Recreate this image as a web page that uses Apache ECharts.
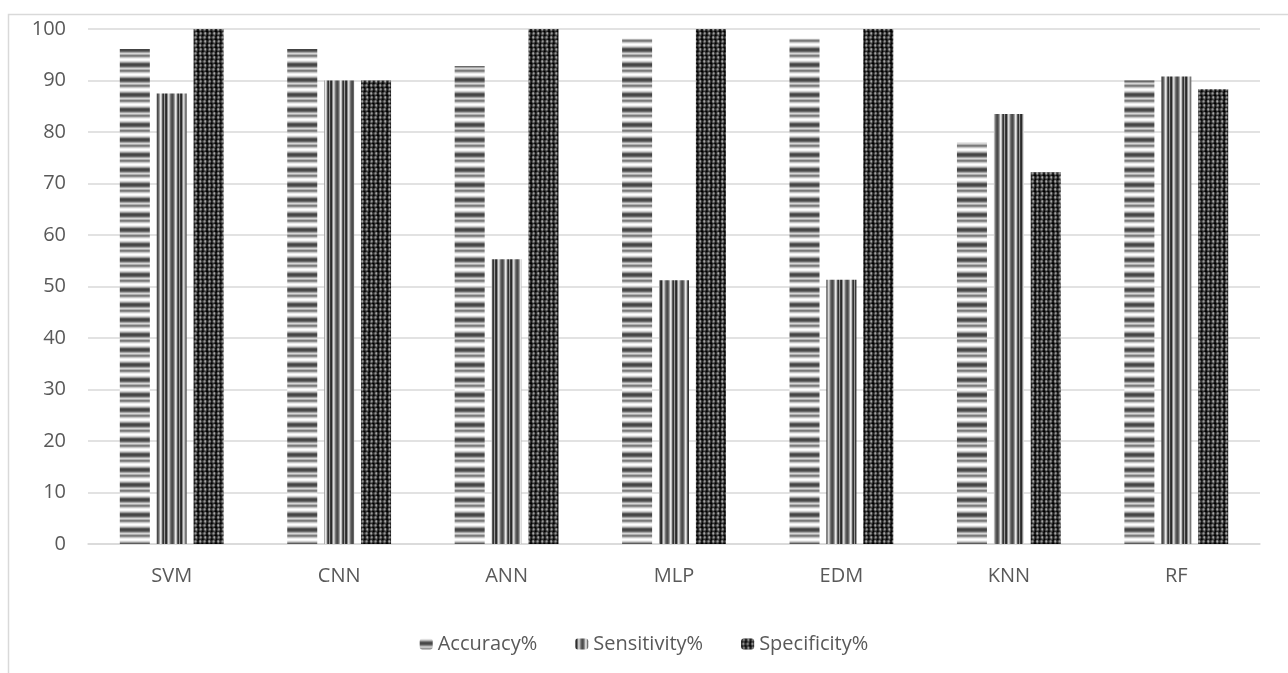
<!DOCTYPE html>
<html>
<head>
<meta charset="utf-8">
<script src="https://cdn.jsdelivr.net/npm/echarts@6/dist/echarts.min.js"></script>
<style>
  html, body { margin: 0; padding: 0; background: #fff; }
  #chart { width: 1288px; height: 673px; }
</style>
</head>
<body>
<div id="chart"></div>
<script>
var categories = ['SVM', 'CNN', 'ANN', 'MLP', 'EDM', 'KNN', 'RF'];
var accuracy = [96.1, 96.1, 92.8, 98.1, 98.1, 77.9, 90];
var sensitivity = [87.5, 90, 55.3, 51.2, 51.3, 83.5, 90.8];
var specificity = [100, 90, 100, 100, 100, 72.2, 88.3];
var yTicks = [0, 10, 20, 30, 40, 50, 60, 70, 80, 90, 100];

// striped fills, like the Office pattern fills in the picture
function hStripes() {
  var shades = ['#f2f2f2','#cfcfcf','#9a9a9a','#5c5c5c','#444','#4a4a4a','#6a6a6a','#a5a5a5','#d5d5d5','#b0b0b0','#7a7a7a','#8c8c8c','#c4c4c4','#ececec','#fff'];
  var c = document.createElement('canvas');
  c.width = 4; c.height = shades.length;
  var ctx = c.getContext('2d');
  shades.forEach(function (s, i) { ctx.fillStyle = s; ctx.fillRect(0, i, 4, 1); });
  return c;
}
function vStripes() {
  var shades = ['#3a3a3a','#2a2a2a','#8a8a8a','#d8d8d8','#b5b5b5','#777','#555','#4a4a4a','#666','#a0a0a0','#e8e8e8','#c0c0c0','#5a5a5a','#333','#9a9a9a'];
  var c = document.createElement('canvas');
  c.width = shades.length; c.height = 4;
  var ctx = c.getContext('2d');
  shades.forEach(function (s, i) { ctx.fillStyle = s; ctx.fillRect(i, 0, 1, 4); });
  return c;
}
function checks() {
  // dark ground with grey blobs in columns
  var rows = [
    '#111,#333,#777,#555,#111,#222,#666,#888,#333',
    '#222,#555,#999,#777,#222,#333,#888,#aaa,#444',
    '#111,#444,#666,#444,#111,#222,#555,#777,#333',
    '#000,#222,#333,#222,#000,#111,#333,#444,#222',
    '#111,#666,#888,#333,#222,#444,#777,#555,#111',
    '#222,#888,#aaa,#555,#333,#666,#999,#777,#222',
    '#111,#555,#777,#333,#222,#444,#666,#444,#111',
    '#000,#222,#333,#111,#000,#222,#333,#222,#000'
  ];
  var c = document.createElement('canvas');
  c.width = 9; c.height = rows.length;
  var ctx = c.getContext('2d');
  rows.forEach(function (r, y) {
    r.split(',').forEach(function (s, x) { ctx.fillStyle = s; ctx.fillRect(x, y, 1, 1); });
  });
  return c;
}

var chart = echarts.init(document.getElementById('chart'));
var font = '"Open Sans", "Noto Sans", sans-serif';

function bar(name, data, img) {
  return {
    name: name,
    type: 'bar',
    data: data,
    barWidth: 30,
    barGap: '23%',
    itemStyle: { color: { image: img, repeat: 'repeat' } }
  };
}

var option = {
  animation: false,
  backgroundColor: '#fff',
  textStyle: { fontFamily: font },
  graphic: [{
    type: 'rect',
    shape: { x: 8.5, y: 14.5, width: 1300, height: 700 },
    style: { fill: 'none', stroke: '#d9d9d9', lineWidth: 1.5 },
    silent: true
  }],
  grid: { left: 88, right: 28, top: 29, bottom: 129 },
  legend: {
    top: 629,
    left: 'center',
    itemWidth: 13,
    itemHeight: 11,
    itemGap: 38,
    textStyle: { color: '#595959', fontSize: 20, fontFamily: font },
    data: ['Accuracy%', 'Sensitivity%', 'Specificity%']
  },
  xAxis: {
    type: 'category',
    data: categories,
    axisTick: { show: false },
    axisLine: { lineStyle: { color: '#d9d9d9', width: 1.5 } },
    axisLabel: { color: '#595959', fontSize: 20, margin: 22, fontFamily: font }
  },
  yAxis: {
    type: 'value',
    min: yTicks[0],
    max: yTicks[yTicks.length - 1],
    interval: 10,
    axisLine: { show: false },
    axisTick: { show: false },
    axisLabel: { color: '#595959', fontSize: 20, margin: 22, fontFamily: font },
    splitLine: { lineStyle: { color: '#d9d9d9', width: 1.5 } }
  },
  series: [
    bar('Accuracy%', accuracy, hStripes()),
    bar('Sensitivity%', sensitivity, vStripes()),
    bar('Specificity%', specificity, checks())
  ]
};
chart.setOption(option);
</script>
</body>
</html>
